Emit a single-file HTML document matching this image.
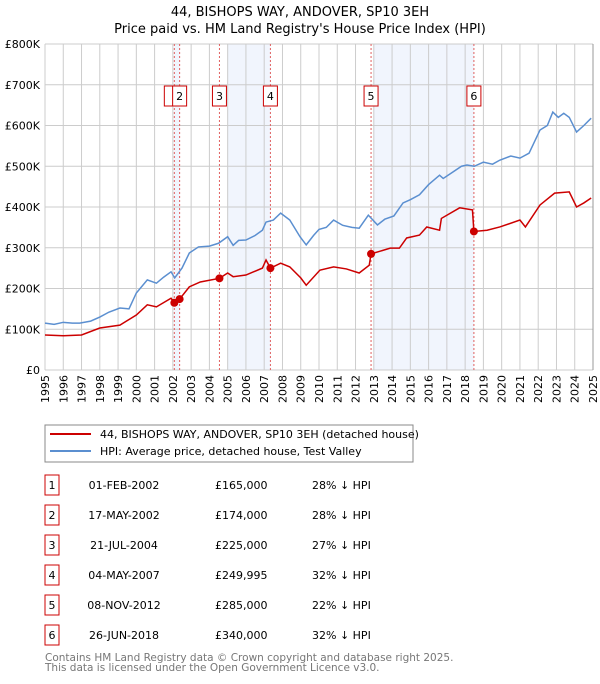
<!DOCTYPE html>
<html><head><meta charset="utf-8"><style>
body{margin:0;background:#fff;font-family:"DejaVu Sans","Liberation Sans",sans-serif;}
svg text{font-family:"DejaVu Sans","Liberation Sans",sans-serif;}
</style></head><body>
<svg id="c" width="600" height="680" xmlns="http://www.w3.org/2000/svg">
<text x="300" y="16" text-anchor="middle" font-size="13">44, BISHOPS WAY, ANDOVER, SP10 3EH</text>
<text x="300" y="33" text-anchor="middle" font-size="13">Price paid vs. HM Land Registry's House Price Index (HPI)</text>
<g id="plot"></g>
<rect x="45" y="425" width="368" height="37" fill="#fff" stroke="#888"/>
<line x1="50" y1="434" x2="91" y2="434" stroke="#cc0000" stroke-width="2"/>
<text x="100" y="438" font-size="11">44, BISHOPS WAY, ANDOVER, SP10 3EH (detached house)</text>
<line x1="50" y1="451" x2="91" y2="451" stroke="#5b8fd0" stroke-width="2"/>
<text x="100" y="455" font-size="11">HPI: Average price, detached house, Test Valley</text>
<g id="table"></g>
<text x="45" y="661" font-size="10.5" fill="#777">Contains HM Land Registry data © Crown copyright and database right 2025.</text>
<text x="45" y="671" font-size="10.5" fill="#777">This data is licensed under the Open Government Licence v3.0.</text>
</svg>
<script>
const yTicks=[0,100,200,300,400,500,600,700,800];
const yTickLabels=["£0","£100K","£200K","£300K","£400K","£500K","£600K","£700K","£800K"];
const years=[1995,1996,1997,1998,1999,2000,2001,2002,2003,2004,2005,2006,2007,2008,2009,2010,2011,2012,2013,2014,2015,2016,2017,2018,2019,2020,2021,2022,2023,2024,2025];
const hpiT=[1995,1995.5,1996,1996.5,1996.9,1997.5,1998,1998.5,1999.1,1999.6,2000,2000.6,2001.1,2001.5,2001.9,2002.1,2002.5,2002.9,2003.4,2004,2004.5,2005,2005.3,2005.6,2006,2006.5,2006.9,2007.1,2007.5,2007.9,2008.4,2008.96,2009.3,2009.7,2010,2010.4,2010.8,2011.3,2011.8,2012.2,2012.7,2013.2,2013.6,2014.1,2014.6,2015,2015.5,2016,2016.6,2016.8,2017.3,2017.8,2018.1,2018.5,2019,2019.5,2019.9,2020.5,2021,2021.5,2022.1,2022.5,2022.8,2023.1,2023.4,2023.7,2024.1,2024.5,2024.9];
const hpiV=[115,112,117,115,115,120,130,142,152,150,189,221,213,228,241,226,250,287,302,304,311,327,306,318,319,330,343,363,368,385,368,327,307,330,345,350,368,355,350,348,380,356,370,378,410,418,430,455,478,470,485,500,503,500,510,505,515,525,520,532,589,600,633,620,630,620,584,600,618];
const redT=[1995,1996,1997,1998,1999.1,2000,2000.6,2001.1,2001.9,2002.08,2002.37,2002.9,2003.5,2004.55,2005,2005.3,2006,2006.9,2007.1,2007.34,2007.9,2008.4,2009,2009.3,2010.05,2010.8,2011.5,2012.2,2012.75,2012.85,2013.9,2014.4,2014.8,2015.5,2015.9,2016.6,2016.7,2017.7,2018.4,2018.48,2019.2,2019.9,2021,2021.3,2022.1,2022.9,2023.7,2024.1,2024.5,2024.9];
const redV=[86,84,86,103,110,135,160,155,176,165,174,204,216,225,238,229,233,250,270,250,262,253,226,208,245,253,248,238,257,285,299,299,324,331,351,343,372,398,393,340,343,351,368,351,405,434,437,400,410,422];
const saleLabels=["1","2","3","4","5","6"];
const saleT=[2002.08,2002.37,2004.55,2007.34,2012.85,2018.48];
const saleV=[165,174,225,249.995,285,340];
const saleDates=["01-FEB-2002","17-MAY-2002","21-JUL-2004","04-MAY-2007","08-NOV-2012","26-JUN-2018"];
const salePrices=["£165,000","£174,000","£225,000","£249,995","£285,000","£340,000"];
const saleHpi=["28% ↓ HPI","28% ↓ HPI","27% ↓ HPI","32% ↓ HPI","22% ↓ HPI","32% ↓ HPI"];
const bandStart=[2002.08,2005.0,2013.0];
const bandEnd=[2002.37,2007.34,2018.48];

const NS="http://www.w3.org/2000/svg";
const X0=45,X1=593,Y0=370,Y1=44;
const xs=t=>X0+(t-1995)/30*(X1-X0);
const ys=v=>Y0-v/800*(Y0-Y1);
const plot=document.getElementById('plot');
function mk(tag,attrs,parent){const e=document.createElementNS(NS,tag);for(const k in attrs)e.setAttribute(k,attrs[k]);(parent||plot).appendChild(e);return e;}
for(let i=0;i<bandStart.length;i++){
 const r=mk('rect',{x:xs(bandStart[i]),y:Y1,width:xs(bandEnd[i])-xs(bandStart[i]),height:Y0-Y1,fill:'#eef3fd',opacity:0.8});
 
 
}
yTicks.forEach((v,i)=>{
 const l=mk('line',{x1:X0,x2:X1,y1:ys(v),y2:ys(v),stroke:'#ccc'});
 
 
 const t=mk('text',{x:40,y:ys(v)+4,'text-anchor':'end','font-size':11});
 
 
 t.textContent=yTickLabels[i];
});
years.forEach(y=>{
 const l=mk('line',{x1:xs(y),x2:xs(y),y1:Y1,y2:Y0,stroke:'#ccc'});
 
 
 const t=mk('text',{x:0,y:0,'text-anchor':'end','font-size':11,transform:`translate(${xs(y)+4},${Y0+5}) rotate(-90)`});
 
 
 t.textContent=y;
});
saleT.forEach((t,i)=>{
 const l=mk('line',{x1:xs(t),x2:xs(t),y1:Y1,y2:Y0,stroke:'#e06060','stroke-dasharray':'2,2'});
 
 
});
const hp=mk('polyline',{points:hpiT.map((t,i)=>xs(t)+','+ys(hpiV[i])).join(' '),fill:'none',stroke:'#5b8fd0','stroke-width':1.5});


const rp=mk('polyline',{points:redT.map((t,i)=>xs(t)+','+ys(redV[i])).join(' '),fill:'none',stroke:'#cc0000','stroke-width':1.5});


saleT.forEach((t,i)=>{
 const c=mk('circle',{cx:xs(t),cy:ys(saleV[i]),r:4,fill:'#cc0000'});
 
 
 const r=mk('rect',{x:i==0?xs(t)-10:xs(t)-7,y:86,width:14,height:20,fill:'#fff',stroke:'#cc0000'});
 
 
 const tx=mk('text',{x:xs(t),y:100,'text-anchor':'middle','font-size':11});
 
 
 tx.textContent=i==0?'':saleLabels[i];
});
mk('line',{x1:X1,x2:X1,y1:Y1,y2:Y0,stroke:'#999'});
const tbl=document.getElementById('table');
saleLabels.forEach((s,i)=>{
 const yy=475+i*30;
 const r=mk('rect',{x:45,y:yy,width:14,height:20,fill:'#fff',stroke:'#cc0000'},tbl);
 
 
 const cells=[[52,'middle',s],[124,'middle',saleDates[i]],[215,'start',salePrices[i]],[312,'start',saleHpi[i]]];
 cells.forEach(c=>{
  const t=mk('text',{x:c[0],y:yy+14,'text-anchor':c[1],'font-size':11},tbl);
  
  
  t.textContent=c[2];
 });
});
</script>
</body></html>
